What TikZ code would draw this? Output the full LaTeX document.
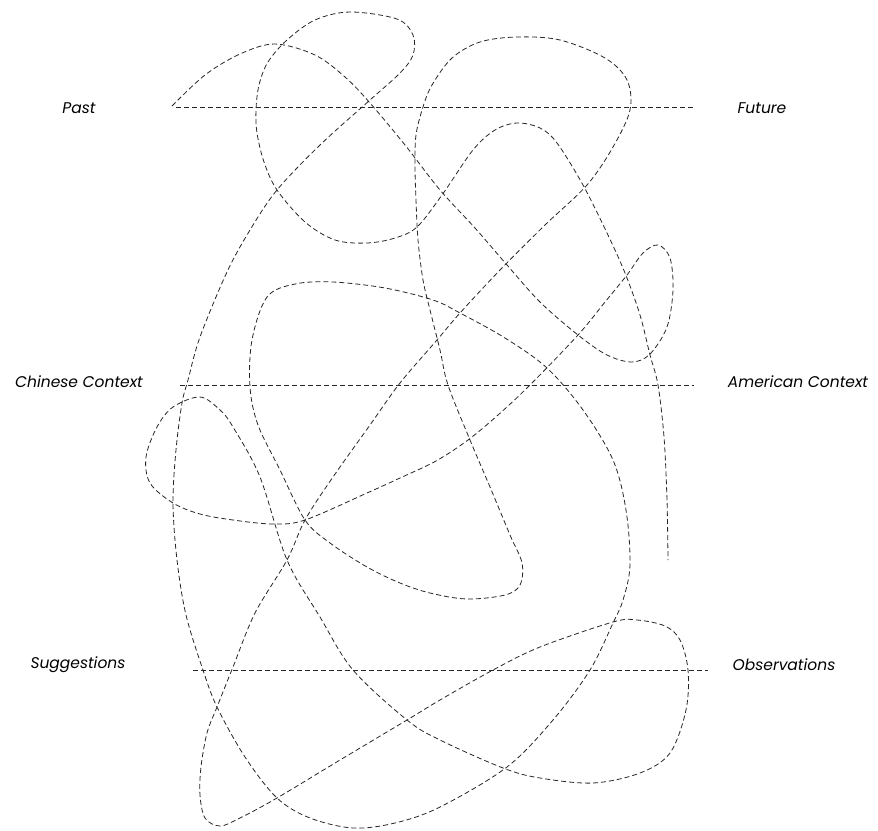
\documentclass[tikz,border=0pt]{standalone}
\usepackage{fontspec}
\setmainfont{Poppins}
\begin{document}
\begin{tikzpicture}[
  x=1pt, y=-1pt,
  scribble/.style={draw=black!85, line width=0.8pt, dash pattern=on 5pt off 3pt},
  tag/.style={font=\itshape\fontsize{15.5}{18}\selectfont, inner sep=0pt}
]
\useasboundingbox (0,0) rectangle (878,830);
% axes
\coordinate (pastL) at (176,107);   \coordinate (pastR) at (694,107);
\coordinate (ctxL)  at (180,385);   \coordinate (ctxR)  at (694,385);
\coordinate (sugL)  at (193,670);   \coordinate (sugR)  at (708,670);
\node[tag] (past)   at (79,108)  {Past};
\node[tag] (future) at (762,108) {Future};
\node[tag] (china)  at (79,382)  {Chinese Context};
\node[tag] (usa)    at (798,382) {American Context};
\node[tag] (sugg)   at (78,665)  {Suggestions};
\node[tag] (obs)    at (784,665) {Observations};
\draw[scribble] (pastL) -- (pastR);
\draw[scribble] (ctxL) -- (ctxR);
\draw[scribble] (sugL) -- (sugR);
% the scribble
\draw[scribble] plot[smooth, tension=0.55] coordinates {
  (172,106) (205,75) (240,54) (275,44) (315,55) (345,77) (370,103)
  (405,145) (440,190) (475,228) (507,265) (540,302) (578,335) (607,355)
  (632,362) (650,354) (667,327) (673,290) (670,258) (658,245) (643,253)
  (627,275) (605,302) (578,335) (530,385) (498,415) (468,440) (436,461)
  (400,478) (367,493) (305,520) (273,524) (233,520) (200,514) (173,503)
  (150,483) (146,457) (157,427) (173,407) (200,397) (220,410) (233,427)
  (260,477) (287,560) (320,617) (353,670) (407,720) (440,740) (503,768)
  (540,778) (593,783) (640,773) (670,753) (686,710) (688,670) (680,640)
  (665,626) (637,620) (613,622) (540,647) (493,670) (440,700) (407,720)
  (340,760) (277,798) (240,818) (220,826) (205,818) (200,795) (201,767)
  (207,733) (217,707) (233,667) (255,613) (287,560) (305,520) (333,477)
  (370,425) (400,383) (437,340) (460,313) (500,270) (545,225) (587,185)
  (613,147) (630,110) (627,80) (605,58) (560,40) (517,37) (480,42)
  (452,58) (432,85) (423,107) (416,135) (415,167) (416,200) (418,240)
  (423,280) (430,310) (440,350) (448,385) (470,440) (490,487) (510,535)
  (522,563) (520,585) (505,595) (467,599) (430,593) (400,583) (367,567)
  (330,543) (305,520) (280,470) (258,425) (250,387) (252,340) (267,297)
  (295,284) (333,282) (385,288) (433,300) (460,313) (505,338) (547,368)
  (583,410) (613,460) (626,510) (630,565) (623,600) (613,623) (590,670)
  (553,720) (507,767) (440,807) (395,823) (353,828) (310,818) (277,798)
  (245,757) (217,707) (203,670) (186,615) (177,560) (173,503) (176,450)
  (182,403) (188,380) (200,337) (227,272) (250,230) (277,190) (320,145)
  (370,100) (400,73) (413,55) (413,35) (397,19) (350,12) (315,20)
  (287,40) (268,62) (259,85) (256,110) (257,133) (264,162) (277,190)
  (305,222) (335,240) (367,243) (395,238) (417,227) (442,195) (473,150)
  (495,130) (517,123) (540,128) (557,143) (583,185) (607,233) (625,273)
  (640,315) (650,355) (658,385) (664,437) (667,500) (668,560)
};
\end{tikzpicture}
\end{document}
